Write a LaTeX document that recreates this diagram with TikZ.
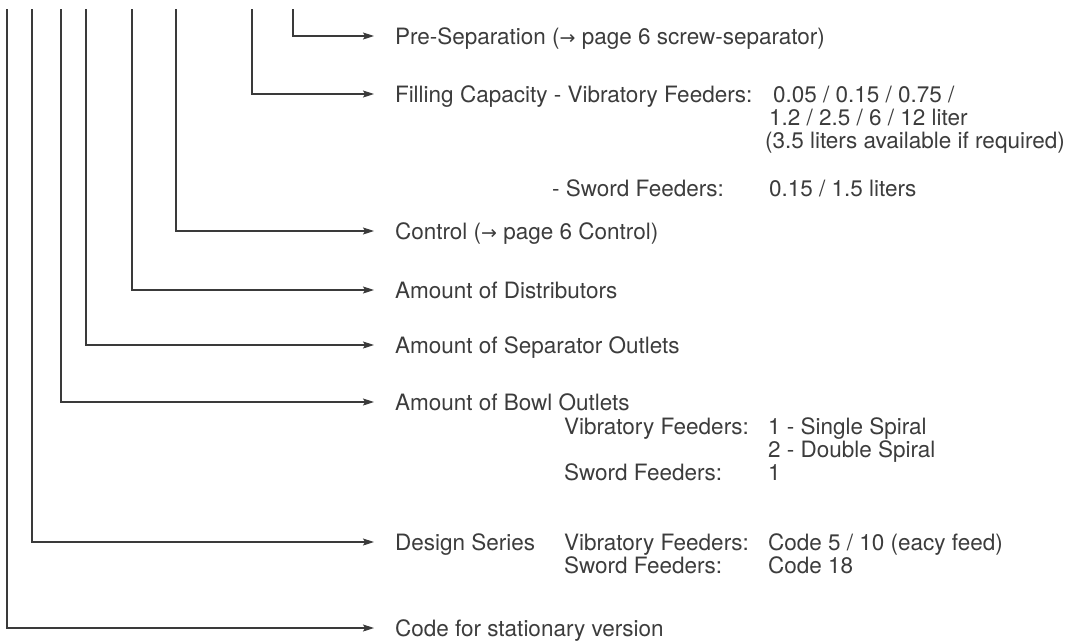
\documentclass[tikz,border=0pt]{standalone}
\usepackage{fontspec}
\setmainfont{TeX Gyre Heros}
\newfontfamily\arrowfont{DejaVu Sans}
\usetikzlibrary{arrows.meta}
\definecolor{ink}{HTML}{3C3C3C}
\definecolor{lineink}{HTML}{3A3A3A}
\newcommand{\rarr}{{\arrowfont\fontsize{19}{19}\selectfont →}}
\tikzset{
  lbl/.style={anchor=west, inner sep=0pt, outer sep=0pt, text=ink,
    font=\fontsize{22.5}{23}\selectfont, text height=16pt, text depth=0pt},
  conn/.style={draw=lineink, line width=1.1pt,
    -{Stealth[length=11pt, width=7pt, inset=2pt]}, shorten >=21pt}
}
\begin{document}
\begin{tikzpicture}[x=1pt, y=-1pt]
\useasboundingbox (0,0) rectangle (1070,641);
% labels
\node[lbl] (pre) at (395,36) {Pre-Separation (\rarr\ page 6 screw-separator)};
\node[lbl] (fill) at (395,94) {Filling Capacity - Vibratory Feeders:};
\node[lbl] (fillA) at (773,94) {0.05 / 0.15 / 0.75 /};
\node[lbl] (fillB) at (769,117) {1.2 / 2.5 / 6 / 12 liter};
\node[lbl] (fillC) at (765,140) {(3.5 liters available if required)};
\node[lbl] (swordF) at (552,188) {- Sword Feeders:};
\node[lbl] (swordFv) at (769,188) {0.15 / 1.5 liters};
\node[lbl] (ctrl) at (395,231) {Control (\rarr\ page 6 Control)};
\node[lbl] (dist) at (395,290) {Amount of Distributors};
\node[lbl] (sep) at (395,345) {Amount of Separator Outlets};
\node[lbl] (bowl) at (395,402) {Amount of Bowl Outlets};
\node[lbl] (bowlVib) at (564,426) {Vibratory Feeders:};
\node[lbl] (bowlVibA) at (768,426) {1 - Single Spiral};
\node[lbl] (bowlVibB) at (768,449) {2 - Double Spiral};
\node[lbl] (bowlSw) at (564,472) {Sword Feeders:};
\node[lbl] (bowlSwv) at (768,472) {1};
\node[lbl] (design) at (395,542) {Design Series};
\node[lbl] (desVib) at (564,542) {Vibratory Feeders:};
\node[lbl] (desVibv) at (768,542) {Code 5 / 10 (eacy feed)};
\node[lbl] (desSw) at (564,565) {Sword Feeders:};
\node[lbl] (desSwv) at (768,565) {Code 18};
\node[lbl] (code) at (395,628) {Code for stationary version};
% tops of the vertical lines
\coordinate (t1) at (293,9);
\coordinate (t2) at (252,9);
\coordinate (t3) at (176,9);
\coordinate (t4) at (132,9);
\coordinate (t5) at (86,9);
\coordinate (t6) at (61,9);
\coordinate (t7) at (32,9);
\coordinate (t8) at (7,9);
% connectors
\draw[conn] (t1) |- (pre.west);
\draw[conn] (t2) |- (fill.west);
\draw[conn] (t3) |- (ctrl.west);
\draw[conn] (t4) |- (dist.west);
\draw[conn] (t5) |- (sep.west);
\draw[conn] (t6) |- (bowl.west);
\draw[conn] (t7) |- (design.west);
\draw[conn] (t8) |- (code.west);
\end{tikzpicture}
\end{document}
